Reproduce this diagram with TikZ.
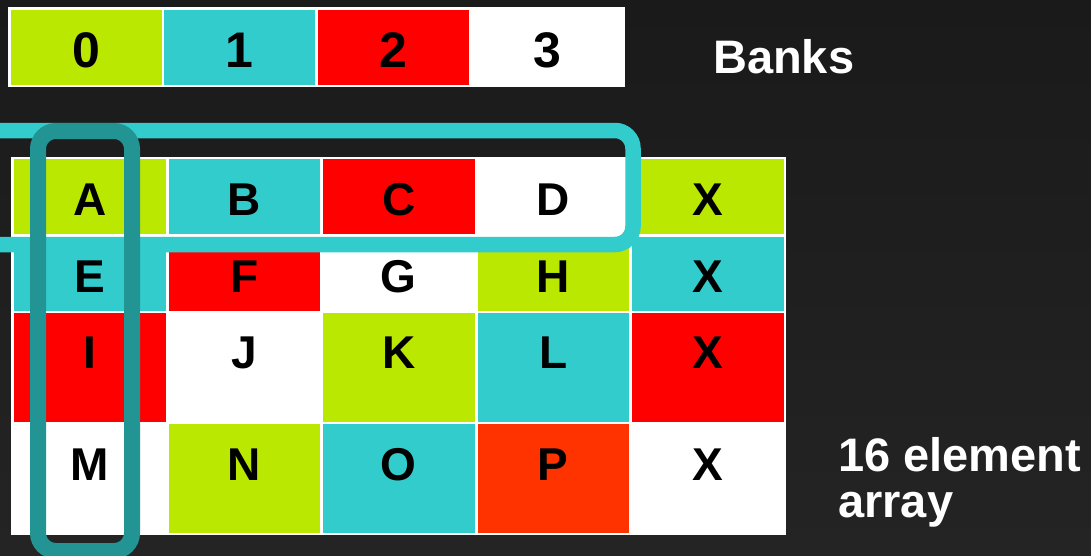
\documentclass[tikz,border=0pt]{standalone}
\usepackage{fontspec}
\setmainfont{Liberation Sans}
\usepackage{xcolor}
\usepackage{tikz}

\definecolor{bankgreen}{RGB}{187,232,0}
\definecolor{bankteal}{RGB}{51,204,204}
\definecolor{bankred}{RGB}{255,0,0}
\definecolor{bankorange}{RGB}{255,51,0}
\definecolor{rowmark}{RGB}{51,204,204}
\definecolor{colmark}{RGB}{34,148,148}
\definecolor{bgtop}{RGB}{26,26,26}
\definecolor{bgbot}{RGB}{36,36,36}

\begin{document}
\begin{tikzpicture}[x=1pt,y=-1pt,
  letter/.style={font=\fontsize{46}{46}\selectfont\bfseries,inner sep=0pt,anchor=base},
  digit/.style={font=\fontsize{50}{50}\selectfont\bfseries,inner sep=0pt,anchor=base},
  caption/.style={font=\fontsize{47}{46}\selectfont\bfseries,text=white,inner sep=0pt}]
  \useasboundingbox (0,0) rectangle (1091,555);
  \clip (0,0) rectangle (1091,555);
  \shade[top color=bgtop,bottom color=bgbot] (0,0) rectangle (1091,555);
  % banks
  \fill[white] (8,7) rectangle (625,87);
  \fill[bankgreen] (11,10) rectangle ++(151,75);
  \fill[bankteal] (164,10) rectangle ++(151,75);
  \fill[bankred] (318,10) rectangle ++(151,75);
  \node[digit] (bank0) at (86.5,67) {0};
  \node[digit] (bank1) at (239.5,67) {1};
  \node[digit] (bank2) at (393.5,67) {2};
  \node[digit] (bank3) at (547,67) {3};
  \node[caption,anchor=base west] (banks) at (713,73) {Banks};
  % array
  \fill[white] (11,157) rectangle (786,535);
  \fill[bankgreen] (14,159) rectangle ++(151.5,75);
  \fill[bankteal] (168.5,159) rectangle ++(151.5,75);
  \fill[bankred] (323,159) rectangle ++(151.5,75);
  \fill[white] (477.5,159) rectangle ++(151.5,75);
  \fill[bankgreen] (632,159) rectangle ++(151.5,75);
  \fill[bankteal] (14,236.5) rectangle ++(151.5,74);
  \fill[bankred] (168.5,236.5) rectangle ++(151.5,74);
  \fill[white] (323,236.5) rectangle ++(151.5,74);
  \fill[bankgreen] (477.5,236.5) rectangle ++(151.5,74);
  \fill[bankteal] (632,236.5) rectangle ++(151.5,74);
  \fill[bankred] (14,313) rectangle ++(151.5,109);
  \fill[white] (168.5,313) rectangle ++(151.5,109);
  \fill[bankgreen] (323,313) rectangle ++(151.5,109);
  \fill[bankteal] (477.5,313) rectangle ++(151.5,109);
  \fill[bankred] (632,313) rectangle ++(151.5,109);
  \fill[white] (14,424) rectangle ++(151.5,109);
  \fill[bankgreen] (168.5,424) rectangle ++(151.5,109);
  \fill[bankteal] (323,424) rectangle ++(151.5,109);
  \fill[bankorange] (477.5,424) rectangle ++(151.5,109);
  \fill[white] (632,424) rectangle ++(151.5,109);
  \node[letter] (A) at (89.75,215) {A};
  \node[letter] (B) at (244.25,215) {B};
  \node[letter] (C) at (398.75,215) {C};
  \node[letter] (D) at (553.25,215) {D};
  \node[letter] (X1) at (707.75,215) {X};
  \node[letter] (E) at (89.75,292) {E};
  \node[letter] (F) at (244.25,292) {F};
  \node[letter] (G) at (398.75,292) {G};
  \node[letter] (H) at (553.25,292) {H};
  \node[letter] (X2) at (707.75,292) {X};
  \node[letter] (I) at (89.75,368) {I};
  \node[letter] (J) at (244.25,368) {J};
  \node[letter] (K) at (398.75,368) {K};
  \node[letter] (L) at (553.25,368) {L};
  \node[letter] (X3) at (707.75,368) {X};
  \node[letter] (M) at (89.75,480) {M};
  \node[letter] (N) at (244.25,480) {N};
  \node[letter] (O) at (398.75,480) {O};
  \node[letter] (P) at (553.25,480) {P};
  \node[letter] (X4) at (707.75,480) {X};
  % row and column outlines
  \draw[rowmark,line width=15.5,rounded corners=18] (-40,130.5) rectangle (633,244.5);
  \draw[colmark,line width=16,rounded corners=18] (38,131) rectangle (132,551);
  \node[caption,anchor=base west,align=left] (size) at (838,517) {16 element\\array};
\end{tikzpicture}
\end{document}
